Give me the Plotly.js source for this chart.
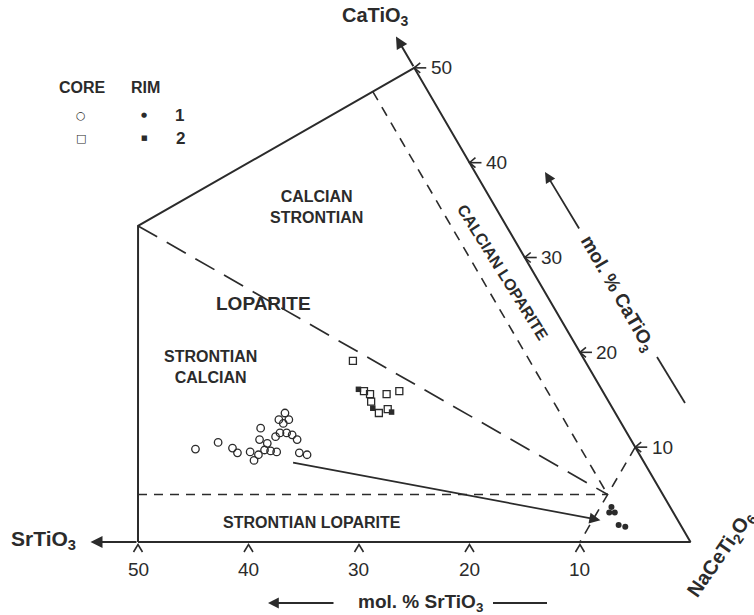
<!DOCTYPE html>
<html><head><meta charset="utf-8">
<script src="https://cdn.plot.ly/plotly-3.0.1.min.js"></script>
<style>html,body{margin:0;padding:0;background:#fff}</style>
</head><body><div id="chart" style="width:754px;height:615px"></div>
<script>
// ---------------- DATA (mol. % SrTiO3, mol. % CaTiO3) ----------------
const coreCircleSr = [39.9,37.5,36.5,36.3,35.1,35.2,34.5,32.9,33.6,33.7,33.1,33.2,32.0,32.7,31.4,30.8,30.4,30.2,30.8,29.9,29.9,30.6,30.7,30.1];
const coreCircleCa = [9.8,10.5,9.9,9.4,9.5,8.6,9.2,12.0,10.8,9.7,10.4,9.6,11.1,9.5,11.5,11.5,11.3,10.8,12.9,13.6,12.9,12.5,9.4,9.2];
const coreSquareSr = [21.0,21.6,21.2,21.5,21.4,19.7,20.4,18.4];
const coreSquareCa = [19.1,15.9,15.6,14.8,13.6,15.6,14.0,15.9];
const rimCircleSr = [5.3,5.8,5.3,5.6,5.1];
const rimCircleCa = [3.7,3.1,3.1,1.8,1.6];
const rimSquareSr = [22.0,21.7,20.2];
const rimSquareCa = [16.1,14.1,13.7];
// trend arrow (core -> rim)
const trendSr = [31.9,7.0];
const trendCa = [8.4,2.3];
// field boundaries
const frameSr = [50,0,0,33.33,50];
const frameCa = [0,0,50,33.33,0];
const ca5Sr = [47.5,5], ca5Ca = [5,5];
const sr5Sr = [5,5], sr5Ca = [47.5,5];
const centSr = [33.33,5], centCa = [33.33,5];
const nace90Sr = [0,10], nace90Ca = [10,0];
// axis ticks
const srTicks = [50,40,30,20,10];
const caTicks = [50,40,30,20,10];
const srArrowEnd = 54.3, caArrowEnd = 53.3;

// ---------------- geometry ----------------
const W = 754, H = 615;
const XR = [62.49,-5.75], YR = [-6.67,49.5];
const kx = W/(XR[0]-XR[1]), ky = H/(YR[1]-YR[0]);
const R3 = Math.sqrt(3)/2;
const tx = (sr,ca)=> sr + ca/2;
const ty = (ca)=> ca*R3;
const ox = (px)=> -px/kx;   // shift right by px
const oy = (py)=> -py/ky;   // shift down by py
const ink = '#2b2b2b';
const FONT = 'Liberation Sans, Arial, Helvetica, sans-serif';
const pp = (px,py)=>({x:px/W, y:1-py/H});

function lineTrace(srs, cas, width, dash){
  return {type:'scatter', mode:'lines', x: srs.map((s,i)=>tx(s,cas[i])), y: cas.map(ty),
    line:{color:ink, width:width, dash:dash||'solid'}, hoverinfo:'skip'};
}
function markTrace(srs, cas, symbol, size, filled){
  return {type:'scatter', mode:'markers', x: srs.map((s,i)=>tx(s,cas[i])), y: cas.map(ty),
    marker:{symbol:symbol, size:size, color: filled? ink : 'rgba(0,0,0,0)', line:{color:ink, width: filled?0:1.3}}, hoverinfo:'skip'};
}

// tick marks
const cx=[], cy=[];
srTicks.forEach(s=>{ const x0=tx(s,0), y0=ty(0);
  cx.push(x0+ox(-4.5), x0, x0+ox(4.5), null);
  cy.push(y0+oy(10), y0+oy(2.5), y0+oy(10), null); });
const hx=[], hy=[];
caTicks.forEach(c=>{ const x0=tx(0,c), y0=ty(c);
  hx.push(x0+ox(6), x0, x0+ox(6), null, x0, x0+ox(12), null);
  hy.push(y0+oy(-5), y0, y0+oy(5), null, y0, y0, null); });

const traces = [
  lineTrace(frameSr, frameCa, 2),
  lineTrace(ca5Sr, ca5Ca, 1.6, '9px,7px'),
  lineTrace(sr5Sr, sr5Ca, 1.6, '10px,8px'),
  lineTrace(centSr, centCa, 1.7, '22px,11px'),
  lineTrace(nace90Sr, nace90Ca, 1.6, '10px,8px'),
  {type:'scatter', mode:'lines', x:cx, y:cy, line:{color:ink,width:1.6}, hoverinfo:'skip'},
  {type:'scatter', mode:'lines', x:hx, y:hy, line:{color:ink,width:1.6}, hoverinfo:'skip'},
  markTrace(coreCircleSr, coreCircleCa, 'circle', 7.5, false),
  markTrace(coreSquareSr, coreSquareCa, 'square', 7, false),
  markTrace(rimCircleSr, rimCircleCa, 'circle', 6, true),
  markTrace(rimSquareSr, rimSquareCa, 'square', 5.5, true)
];

const ann = [];
function txt(px,py,text,size,opts){
  const p = pp(px,py);
  ann.push(Object.assign({xref:'paper',yref:'paper',x:p.x,y:p.y,text:text,showarrow:false,
    xanchor:'center',yanchor:'middle',font:{family:FONT,size:size,color:ink}}, opts||{}));
}
// tick labels from tick arrays
srTicks.forEach(s=> ann.push({x:tx(s,0), y:ty(0), text:String(s), showarrow:false, yshift:-28,
  xanchor:'center', yanchor:'middle', font:{family:FONT,size:19,color:ink}}));
caTicks.forEach(c=> ann.push({x:tx(0,c), y:ty(c), text:String(c), showarrow:false, xshift:27,
  xanchor:'center', yanchor:'middle', font:{family:FONT,size:19,color:ink}}));
// axis arrows
ann.push({x:tx(srArrowEnd,0), y:ty(0), ax:tx(50,0), ay:ty(0), axref:'x', ayref:'y', text:'',
  showarrow:true, arrowhead:2, arrowsize:1.2, arrowwidth:2, arrowcolor:ink, standoff:0});
ann.push({x:tx(0,caArrowEnd), y:ty(caArrowEnd), ax:tx(0,50), ay:ty(50), axref:'x', ayref:'y', text:'',
  showarrow:true, arrowhead:2, arrowsize:1.2, arrowwidth:2, arrowcolor:ink, standoff:0});
// trend arrow
ann.push({x:tx(trendSr[1],trendCa[1]), y:ty(trendCa[1]), ax:tx(trendSr[0],trendCa[0]), ay:ty(trendCa[0]),
  axref:'x', ayref:'y', text:'', showarrow:true, arrowhead:2, arrowsize:1.3, arrowwidth:1.7, arrowcolor:ink, standoff:0});

// labels
txt(375,17,'<b>CaTiO<sub>3</sub></b>',20);
txt(43,540,'<b>SrTiO<sub>3</sub></b>',21);
txt(721,554,'<b>NaCeTi<sub>2</sub>O<sub>6</sub></b>',20,{textangle:-55});
txt(316,207,'<b>CALCIAN<br>STRONTIAN</b>',16);
txt(263,303,'<b>LOPARITE</b>',19);
txt(210,367,'<b>STRONTIAN<br>CALCIAN</b>',16);
txt(312,522,'<b>STRONTIAN LOPARITE</b>',16);
txt(503,272,'<b>CALCIAN LOPARITE</b>',16,{textangle:58});
txt(617,294,'<b>mol. % CaTiO<sub>3</sub></b>',19,{textangle:60});
txt(420,603,'<b>mol. % SrTiO<sub>3</sub></b>',19);
// legend
txt(82,87,'<b>CORE</b>',16);
txt(145,87,'<b>RIM</b>',16);
txt(179,115,'<b>1</b>',17);
txt(180,138,'<b>2</b>',17);
txt(81,115,'○',11,{font:{family:'DejaVu Sans',size:11,color:ink}});
txt(144,115,'●',7,{font:{family:'DejaVu Sans',size:7,color:ink}});
txt(81,138,'□',11,{font:{family:'DejaVu Sans',size:11,color:ink}});
txt(144,138,'■',7,{font:{family:'DejaVu Sans',size:7,color:ink}});
// caption arrows
let a = pp(545,172);
ann.push({xref:'paper',yref:'paper',x:a.x,y:a.y,ax:35,ay:58,text:'',showarrow:true,arrowhead:2,arrowsize:1.2,arrowwidth:1.8,arrowcolor:ink,standoff:0});
a = pp(268,603);
ann.push({xref:'paper',yref:'paper',x:a.x,y:a.y,ax:67,ay:0,text:'',showarrow:true,arrowhead:2,arrowsize:1.2,arrowwidth:1.8,arrowcolor:ink,standoff:0});

const shapes = [
  {type:'line', xref:'paper', yref:'paper', x0:493/W, y0:1-603/H, x1:547/W, y1:1-603/H, line:{color:ink,width:1.8}},
  {type:'line', xref:'paper', yref:'paper', x0:657/W, y0:1-357/H, x1:685/W, y1:1-403/H, line:{color:ink,width:1.8}}
];

const layout = {
  width:W, height:H, margin:{l:0,r:0,t:0,b:0}, showlegend:false,
  paper_bgcolor:'#fff', plot_bgcolor:'#fff',
  xaxis:{range:XR, visible:false, fixedrange:true},
  yaxis:{range:YR, visible:false, fixedrange:true},
  annotations:ann, shapes:shapes
};
Plotly.newPlot('chart', traces, layout, {staticPlot:true, displayModeBar:false});
</script></body></html>
